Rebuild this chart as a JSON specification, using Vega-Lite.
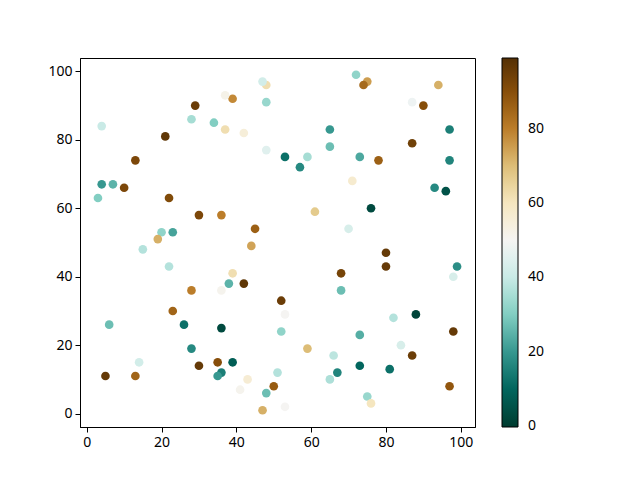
{
  "$schema": "https://vega.github.io/schema/vega-lite/v6.json",
  "width": 395,
  "height": 369,
  "autosize": {"type": "none"},
  "padding": {"left": 80, "top": 58, "right": 165, "bottom": 53},
  "background": "white",
  "config": {
    "font": "Noto Sans",
    "view": {"stroke": "black", "strokeWidth": 1},
    "axis": {
      "grid": false,
      "domainColor": "black",
      "tickColor": "black",
      "tickSize": 5,
      "labelColor": "black",
      "labelFontSize": 14,
      "labelPadding": 3,
      "labelFont": "Noto Sans",
      "title": null
    }
  },
  "data": {
    "values": [
      {"x":72,"y":99,"v":32},{"x":75,"y":97,"v":75},{"x":74,"y":96,"v":84},{"x":94,"y":96,"v":72},{"x":48,"y":96,"v":62},{"x":47,"y":97,"v":42},
      {"x":29,"y":90,"v":95},{"x":39,"y":92,"v":78},{"x":37,"y":93,"v":52},{"x":87,"y":91,"v":48},{"x":90,"y":90,"v":90},{"x":48,"y":91,"v":33},
      {"x":28,"y":86,"v":35},{"x":34,"y":85,"v":30},{"x":4,"y":84,"v":40},{"x":37,"y":83,"v":62},{"x":42,"y":82,"v":55},{"x":21,"y":81,"v":97},
      {"x":65,"y":83,"v":20},{"x":97,"y":83,"v":15},{"x":87,"y":79,"v":94},{"x":48,"y":77,"v":45},{"x":65,"y":78,"v":27},{"x":53,"y":75,"v":12},
      {"x":59,"y":75,"v":35},{"x":73,"y":75,"v":23},{"x":78,"y":74,"v":86},{"x":97,"y":74,"v":16},{"x":13,"y":74,"v":92},{"x":57,"y":72,"v":17},
      {"x":71,"y":68,"v":57},{"x":4,"y":67,"v":20},{"x":7,"y":67,"v":25},{"x":3,"y":63,"v":30},{"x":10,"y":66,"v":92},{"x":93,"y":66,"v":17},
      {"x":96,"y":65,"v":5},{"x":22,"y":63,"v":91},{"x":76,"y":60,"v":3},{"x":61,"y":59,"v":67},{"x":30,"y":58,"v":92},{"x":36,"y":58,"v":80},
      {"x":70,"y":54,"v":43},{"x":45,"y":54,"v":86},{"x":20,"y":53,"v":32},{"x":23,"y":53,"v":22},{"x":19,"y":51,"v":72},{"x":15,"y":48,"v":37},
      {"x":44,"y":49,"v":74},{"x":80,"y":47,"v":96},{"x":80,"y":43,"v":96},{"x":99,"y":43,"v":18},{"x":98,"y":40,"v":43},{"x":22,"y":43,"v":37},
      {"x":39,"y":41,"v":62},{"x":68,"y":41,"v":93},{"x":42,"y":38,"v":97},{"x":38,"y":38,"v":25},{"x":28,"y":36,"v":80},{"x":36,"y":36,"v":51},
      {"x":68,"y":36,"v":27},{"x":52,"y":33,"v":95},{"x":53,"y":29,"v":50},{"x":88,"y":29,"v":2},{"x":82,"y":28,"v":37},{"x":23,"y":30,"v":85},
      {"x":6,"y":26,"v":27},{"x":26,"y":26,"v":12},{"x":36,"y":25,"v":3},{"x":52,"y":24,"v":32},{"x":98,"y":24,"v":96},{"x":73,"y":23,"v":24},
      {"x":84,"y":20,"v":43},{"x":28,"y":19,"v":17},{"x":59,"y":19,"v":70},{"x":66,"y":17,"v":38},{"x":87,"y":17,"v":95},{"x":14,"y":15,"v":42},
      {"x":35,"y":15,"v":90},{"x":39,"y":15,"v":8},{"x":30,"y":14,"v":96},{"x":73,"y":14,"v":10},{"x":81,"y":13,"v":12},{"x":51,"y":12,"v":37},
      {"x":36,"y":12,"v":15},{"x":35,"y":11,"v":20},{"x":67,"y":12,"v":16},{"x":5,"y":11,"v":96},{"x":13,"y":11,"v":85},{"x":65,"y":10,"v":36},
      {"x":43,"y":10,"v":56},{"x":50,"y":8,"v":87},{"x":97,"y":8,"v":88},{"x":41,"y":7,"v":51},{"x":48,"y":6,"v":27},{"x":75,"y":5,"v":33},
      {"x":76,"y":3,"v":60},{"x":53,"y":2,"v":50},{"x":47,"y":1,"v":72}
    ]
  },
  "mark": {"type": "circle", "size": 75, "opacity": 1},
  "encoding": {
    "x": {
      "field": "x", "type": "quantitative",
      "scale": {"domain": [-1.8, 103.8], "nice": false, "zero": false},
      "axis": {"values": [0, 20, 40, 60, 80, 100]}
    },
    "y": {
      "field": "y", "type": "quantitative",
      "scale": {"domain": [-3.9, 103.9], "nice": false, "zero": false},
      "axis": {"values": [0, 20, 40, 60, 80, 100]}
    },
    "color": {
      "field": "v", "type": "quantitative",
      "scale": {
        "domain": [-0.3, 9.9, 19.8, 29.7, 39.6, 49.5, 59.4, 69.3, 79.2, 89.1, 99],
        "range": ["#003c30", "#01665e", "#35978f", "#80cdc1", "#c7eae5", "#f5f5f5", "#f6e8c3", "#dfc27d", "#bf812d", "#8c510a", "#543005"],
        "interpolate": "rgb",
        "nice": false,
        "zero": false
      },
      "legend": {
        "orient": "none",
        "legendX": 422,
        "legendY": 0,
        "padding": 0,
        "title": null,
        "direction": "vertical",
        "gradientLength": 369,
        "gradientThickness": 16,
        "gradientStrokeColor": "black",
        "gradientStrokeWidth": 1,
        "values": [0, 20, 40, 60, 80],
        "labelBaseline": "middle",
        "labelFontSize": 14,
        "labelColor": "black",
        "labelOffset": 10,
        "labelOverlap": false
      }
    }
  }
}
